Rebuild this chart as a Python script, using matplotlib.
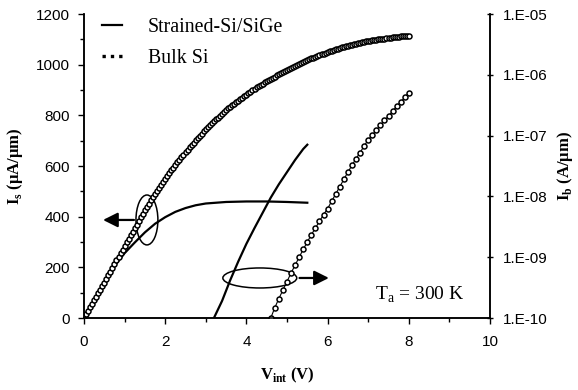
import matplotlib
matplotlib.use('Agg')
import matplotlib.pyplot as plt
import numpy as np
from matplotlib.patches import Ellipse
from matplotlib.lines import Line2D
from matplotlib.ticker import FixedLocator, FixedFormatter, NullLocator

# --- data ---
# bulk Si drain current Is (uA/um), sweep 0..8 V in 0.05 V steps
bulk_is_v = np.round(np.arange(161) * 0.05, 2)
bulk_is = [
    0, 14, 28, 42, 56, 70, 84, 98, 112, 126,
    140, 154, 169, 183, 198, 212, 227, 241, 256, 270,
    285, 299, 313, 327, 341, 355, 369, 383, 397, 411,
    425, 438, 451, 464, 477, 490, 502, 514, 526, 538,
    550, 561, 572, 583, 593, 604, 614, 625, 635, 645,
    655, 665, 674, 683, 692, 701, 710, 719, 728, 737,
    745, 753, 761, 769, 776, 784, 791, 799, 806, 813,
    820, 827, 833, 840, 846, 852, 858, 864, 870, 876,
    882, 888, 893, 899, 904, 910, 915, 920, 925, 930,
    935, 940, 944, 949, 953, 958, 962, 967, 971, 976,
    980, 984, 988, 992, 996, 1000, 1003, 1007, 1011, 1015,
    1018, 1022, 1025, 1028, 1031, 1035, 1038, 1041, 1044, 1047,
    1050, 1053, 1055, 1058, 1060, 1063, 1065, 1068, 1070, 1073,
    1075, 1077, 1079, 1081, 1083, 1085, 1086, 1088, 1090, 1092,
    1093, 1095, 1096, 1097, 1098, 1100, 1101, 1102, 1103, 1105,
    1106, 1107, 1108, 1109, 1110, 1111, 1112, 1112, 1113, 1114,
    1115,
]

# strained-Si/SiGe Is (uA/um)
strained_is_v = [0, 0.25, 0.5, 0.75, 1.0, 1.25, 1.5, 1.75, 2.0, 2.25, 2.5, 2.75, 3.0, 3.5, 4.0, 4.5, 5.0, 5.5]
strained_is = [0, 70, 140, 205, 256, 298, 338, 372, 398, 419, 434, 445, 452, 458, 460, 460, 458, 455]

# bulk Si body current Ib, log10(A/um), 0.1 V steps
bulk_ib_v = np.round(4.6 + np.arange(35) * 0.1, 2)
bulk_ib_log = [
    -10.0, -9.83, -9.68, -9.54, -9.40, -9.26, -9.13, -9.00, -8.87, -8.75,
    -8.63, -8.52, -8.41, -8.30, -8.20, -8.08, -7.96, -7.84, -7.72, -7.60,
    -7.49, -7.38, -7.28, -7.17, -7.07, -6.99, -6.91, -6.83, -6.75, -6.68,
    -6.60, -6.52, -6.45, -6.37, -6.30,
]

# strained-Si/SiGe Ib, log10(A/um)
strained_ib_v = [3.2, 3.4, 3.6, 3.8, 4.0, 4.2, 4.4, 4.6, 4.8, 5.0, 5.2, 5.4, 5.5]
strained_ib_log = [-10.0, -9.72, -9.38, -9.07, -8.78, -8.52, -8.27, -8.02, -7.80, -7.60, -7.40, -7.22, -7.15]

left_ticks = [0, 200, 400, 600, 800, 1000, 1200]
right_ticks = [1e-10, 1e-9, 1e-8, 1e-7, 1e-6, 1e-5]
right_labels = ['1.E-10', '1.E-09', '1.E-08', '1.E-07', '1.E-06', '1.E-05']
x_ticks = [0, 2, 4, 6, 8, 10]

serif = 'Liberation Serif'
sans = 'Liberation Sans'

fig = plt.figure(figsize=(5.78, 3.90), dpi=100)
ax = fig.add_axes([84 / 578, 1 - 318 / 390, (490 - 84) / 578, (318 - 14) / 390])
ax2 = ax.twinx()

# Is curves on the left axis
ax.plot(strained_is_v, strained_is, color='black', lw=1.6)
ax.plot(bulk_is_v, bulk_is, color='black', lw=0.8, marker='o', ms=3.6,
        mfc='white', mec='black', mew=1.1)

# Ib curves on the right (log) axis
ax2.plot(strained_ib_v, 10 ** np.array(strained_ib_log), color='black', lw=1.6)
ax2.plot(bulk_ib_v, 10 ** np.array(bulk_ib_log), color='black', lw=0.8, marker='o', ms=3.6,
         mfc='white', mec='black', mew=1.1)

ax.set_xlim(0, 10)
ax.set_ylim(0, 1200)
ax2.set_yscale('log')
ax2.set_ylim(1e-10, 1e-5)

ax.spines['top'].set_visible(False)
ax2.spines['top'].set_visible(False)
for a in (ax, ax2):
    for s in a.spines.values():
        s.set_linewidth(1.1)

ax.set_xticks(x_ticks)
ax.set_xticks(range(0, 11), minor=True)
ax.set_yticks(left_ticks)
ax.set_yticks(range(0, 1201, 100), minor=True)
ax.tick_params(which='major', length=4, width=1, direction='out', labelsize=11)
ax.tick_params(which='minor', length=3, width=1, direction='out')
ax.tick_params(axis='x', pad=8)
ax.tick_params(axis='y', pad=6)
for lab in ax.get_xticklabels() + ax.get_yticklabels():
    lab.set_fontfamily(sans)

ax2.yaxis.set_major_locator(FixedLocator(right_ticks))
ax2.yaxis.set_major_formatter(FixedFormatter(right_labels))
ax2.yaxis.set_minor_locator(NullLocator())
ax2.tick_params(which='major', length=5, width=1, direction='inout', labelsize=11, pad=7)
for lab in ax2.get_yticklabels():
    lab.set_fontfamily(sans)

ax.set_xlabel(r'V$_\mathregular{int}$ (V)', fontfamily=serif, fontweight='bold', fontsize=12, labelpad=12)
ax.set_ylabel(r'I$_\mathregular{s}$ ($\mathregular{\mu}$A/$\mathregular{\mu}$m)', fontfamily=serif,
              fontweight='bold', fontsize=12, labelpad=8)
ax2.set_ylabel(r'I$_\mathregular{b}$ (A/$\mathregular{\mu}$m)', fontfamily=serif,
               fontweight='bold', fontsize=12, labelpad=5)

# legend
handles = [Line2D([], [], color='black', lw=1.6),
           Line2D([], [], color='black', lw=2.4, ls=(0, (1, 1.5)))]
ax.legend(handles, ['Strained-Si/SiGe', 'Bulk Si'], loc='upper left', bbox_to_anchor=(0.0, 1.045),
          frameon=False, handlelength=1.0, handletextpad=1.3, labelspacing=0.6,
          prop={'family': serif, 'size': 14.3})

# annotations: ellipses with arrows
ax.add_patch(Ellipse((1.55, 387), 0.54, 197, fill=False, color='black', lw=1.1))
ax.annotate('', xy=(0.4, 387), xytext=(1.3, 387),
            arrowprops=dict(arrowstyle='-|>', color='black', lw=1.6, mutation_scale=22))
ax.add_patch(Ellipse((4.33, 158), 1.82, 79, fill=False, color='black', lw=1.1))
ax.annotate('', xy=(6.1, 158), xytext=(5.24, 158),
            arrowprops=dict(arrowstyle='-|>', color='black', lw=1.6, mutation_scale=22))

ax.text(7.17, 91, r'T$_\mathregular{a}$ = 300 K', fontfamily=serif, fontsize=14, va='center', ha='left')

fig.savefig('out.png', dpi=100)
